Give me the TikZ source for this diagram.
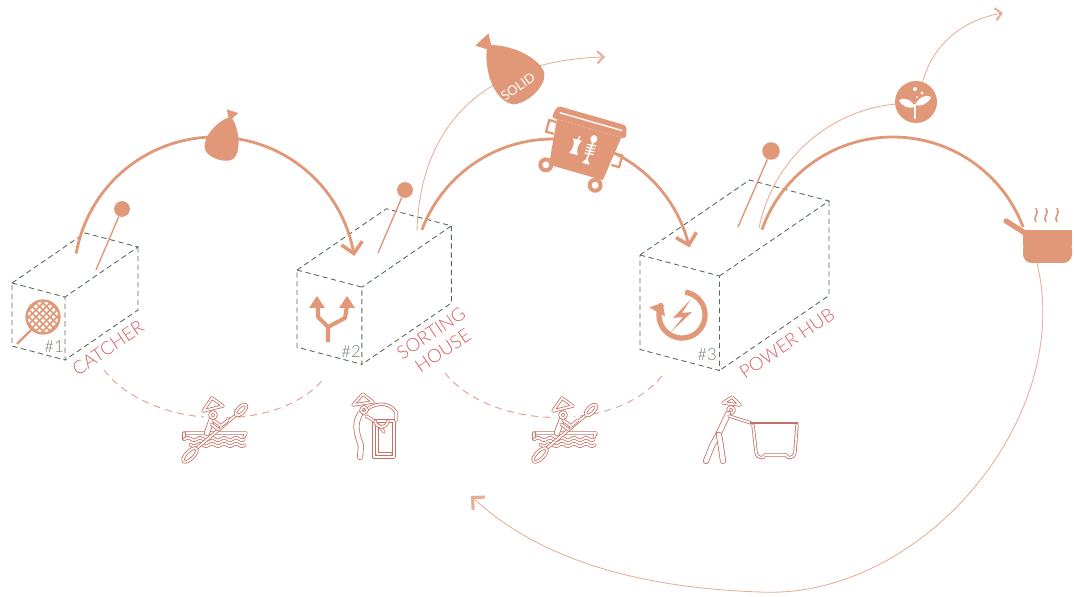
\documentclass[tikz,border=0pt]{standalone}
\usepackage{fontspec}
\setmainfont{Lato}
\newfontfamily\lightfont{Lato Light}
\usepackage{tikz}
\usetikzlibrary{arrows.meta}

\definecolor{salmon}{RGB}{225,152,120}
\definecolor{paleflow}{RGB}{230,175,152}
\definecolor{labelred}{RGB}{214,94,100}
\definecolor{boxgreen}{RGB}{84,108,88}
\definecolor{numgray}{RGB}{110,132,112}
\definecolor{figline}{RGB}{196,112,100}
\definecolor{walkpink}{RGB}{226,168,158}

\tikzset{
  boxline/.style={boxgreen, line width=0.5pt, dash pattern=on 3pt off 2pt},
  flow/.style={salmon, line width=1.6pt},
  thinflow/.style={paleflow, line width=0.5pt},
  walkline/.style={walkpink, line width=0.6pt, dash pattern=on 4pt off 3pt},
  figstroke/.style={figline, line width=0.45pt, double=white, double distance=1pt, line cap=round, line join=round},
  figbody/.style={figstroke, double distance=2.6pt},
  bigbarb/.style={-{Straight Barb[length=6pt, width=12pt, line width=2pt]}},
  smallbarb/.style={-{Straight Barb[length=3.5pt, width=7pt, line width=1.2pt]}},
  cornerbarb/.style={-{Straight Barb[length=5pt, width=10pt, line width=1.8pt]}},
  pinhead/.style={circle, fill=salmon, inner sep=0pt, minimum size=9pt},
  tag/.style={labelred, font=\lightfont\fontsize{10.5}{12}\selectfont, rotate=34, align=center, inner sep=0pt},
  numtag/.style={numgray, font=\lightfont\fontsize{9.5}{10}\selectfont, inner sep=0pt},
}

% dashed station box, #1 = front top-left corner, #2 = scale
\newcommand{\crate}[2]{%
  \begin{scope}[shift={#1}, scale=#2]
    \draw[boxline] (0,0) -- (53,14) -- (53,77) -- (0,63) -- cycle;
    \draw[boxline] (0,0) -- (73,-50) -- (126,-36) -- (53,14);
    \draw[boxline] (126,-36) -- (126,27) -- (53,77);
  \end{scope}}

% tied bag, knot at the origin
\newcommand{\sack}{%
  \fill[salmon] (-6,-5) -- (6,-5) -- (2,2) -- (-2,2) -- cycle;
  \fill[salmon] (-2,2) .. controls (-14,12) and (-22,32) .. (-14,41)
    .. controls (-7,47) and (10,47) .. (15,40)
    .. controls (20,32) and (13,12) .. (2,2) -- cycle;}

% paddler in a canoe, origin at the seat
\newcommand{\kayaker}{%
  \fill[white] (-11,-14) rectangle (9,2);
  \draw[figstroke] (-31,3) -- (31,3) -- (29,7);
  \draw[figstroke] (-31,3) -- (-31,9);
  \draw[figstroke] plot[domain=-31:29, samples=40, variable=\u] (\u, {9+1.2*sin(30*\u)});
  \draw[figstroke] plot[domain=-25:30, samples=40, variable=\u] (\u, {15+1.2*sin(30*\u)});
  \draw[figstroke] (21,-15) -- (-18,18);
  \draw[figstroke, rotate around={45:(26,-20)}] (26,-20) ellipse (7 and 3.2);
  \draw[figstroke, rotate around={45:(-25,25)}] (-25,25) ellipse (9 and 3.8);
  \draw[figbody] (-3,-11) .. controls (-5,-5) and (-7,-1) .. (-8,3);
  \draw[figstroke] (-2,-10) -- (6,-4) -- (13,-10);
  \draw[figstroke] (-4,-6) -- (4,0);
  \draw[figstroke] (-12,-19) -- (-3,-32) -- (8,-24) -- cycle;
  \draw[figstroke] (-2,-15) circle (3);}

\begin{document}
\begin{tikzpicture}[x=0.02cm, y=-0.02cm]
\useasboundingbox (0,0) rectangle (1074,597);

% walking paths between the stations
\draw[walkline] (104,370) .. controls (150,430) and (280,435) .. (325,377);
\draw[walkline] (445,373) .. controls (490,430) and (620,435) .. (665,372);

% thin side streams
\draw[thinflow, smallbarb] (417,231) .. controls (420,120) and (490,60) .. (605,57);
\draw[thinflow] (759,228) .. controls (775,150) and (840,108) .. (897,104);
\draw[thinflow, smallbarb] (922,84) .. controls (932,45) and (962,20) .. (1003,13);
\draw[thinflow, cornerbarb] (1037,263) .. controls (1075,420) and (920,600) .. (760,592)
  .. controls (640,588) and (540,560) .. (471,496);

% stations
\crate{(12,283)}{1}
\crate{(297,270)}{1.225}
\crate{(640,255)}{1.5}

% pins
\node[pinhead] (pin1) at (122,209) {};
\node[pinhead] (pin2) at (405,190) {};
\node[pinhead, minimum size=10pt] (pin3) at (771,151) {};
\draw[salmon, line width=0.8pt] (pin1) -- (96,270);
\draw[salmon, line width=0.8pt] (pin2) -- (378,253);
\draw[salmon, line width=0.8pt] (pin3) -- (738,227);

% main stream
\draw[flow, bigbarb] plot[domain=170:9, samples=60, variable=\t] ({215+141*cos(\t)}, {278-141*sin(\t)});
\draw[flow, bigbarb] plot[domain=159.5:13, samples=60, variable=\t] ({553+140*cos(\t)}, {279-140*sin(\t)});
\draw[flow] plot[domain=160.6:20.6, samples=60, variable=\t] ({893+139*cos(\t)}, {276-139*sin(\t)});

% bags
\begin{scope}[shift={(231,116)}, rotate=-17]
  \sack
\end{scope}
\begin{scope}[shift={(487,45)}, rotate=43, scale=1.5]
  \sack
\end{scope}
\node[white, rotate=35, font=\fontsize{7.5}{8}\selectfont, inner sep=0pt] (solid) at (518,87) {SOLID};

% wheelie bin
\begin{scope}[shift={(585,148)}, rotate=-16]
  \fill[salmon, rounded corners=2pt] (-38,-33) -- (34,-33) -- (37,-20) -- (-41,-20) -- cycle;
  \draw[white, line width=0.8pt] (-34,-27) -- (31,-27);
  \fill[salmon] (-35,-20) -- (32,-20) -- (26,26) -- (-30,26) -- cycle;
  \draw[salmon, line width=1.3pt] (-35,-17) -- (-42,-17) -- (-42,-5) -- (-34,-5);
  \draw[salmon, line width=1.3pt] (31,-3) -- (38,-3) -- (38,9) -- (30,9);
  \fill[salmon] (-33,27) circle (7.5);
  \fill[white] (-33,27) circle (3.5);
  \fill[salmon] (20,33) circle (7.5);
  \fill[white] (20,33) circle (3.5);
  % apple core
  \fill[white] (-14,-6) -- (-5,-6) .. controls (-8,-1) and (-8,4) .. (-5,9)
    -- (-14,9) .. controls (-11,4) and (-11,-1) .. cycle;
  \draw[white, line width=0.8pt] (-9,-6) -- (-8,-10);
  % fish bones
  \fill[white] (6,-11) ellipse (3.5 and 4);
  \draw[white, line width=0.9pt] (6,-7) -- (5,10);
  \foreach \r in {-4,-1,2,5}
    \draw[white, line width=0.7pt] (1,\r) -- (10,\r-1);
  \fill[white] (5,9) -- (1,15) -- (9,15) -- cycle;
\end{scope}

% plant
\fill[salmon] (916,102) circle (21);
\draw[white, line width=1.2pt] (915,119) -- (915,104);
\fill[white] (915,107) .. controls (911,99) and (904,97) .. (899,100) .. controls (902,107) and (909,109) .. cycle;
\fill[white] (915,105) .. controls (919,97) and (926,94) .. (931,97) .. controls (928,104) and (921,107) .. cycle;
\fill[white] (915,89) circle (2);
\fill[white] (922,93) circle (1.6);
\fill[white] (917,97) circle (1.2);

% cooking pot
\draw[salmon, line width=3pt, line cap=round] (1006,221) -- (1025,233);
\fill[salmon, rounded corners=5pt] (1023,240) rectangle (1072,263);
\fill[salmon] (1023,230) rectangle (1072,246);
\foreach \sx in {1036,1046,1057}
  \draw[salmon, line width=0.9pt] (\sx,222) .. controls (\sx-4,218) and (\sx+4,213) .. (\sx,208);

% station symbols
\begin{scope}
  \clip (43,317) circle (16);
  \foreach \k in {-35,-28,...,35} {
    \draw[salmon, line width=1pt] (43+\k-20,297) -- (43+\k+20,337);
    \draw[salmon, line width=1pt] (43+\k-20,337) -- (43+\k+20,297);
  }
\end{scope}
\draw[salmon, line width=1.3pt] (43,317) circle (16.5);
\draw[salmon, line width=1.3pt] (31,330) -- (17,344);

\draw[salmon, line width=2.3pt, line join=round] (328,342) -- (328,327) -- (318,317) -- (318,306);
\draw[salmon, line width=2.3pt, line join=round] (328,327) -- (345,318) -- (347,306);
\fill[salmon] (317,296) -- (309,308) -- (325,308) -- cycle;
\fill[salmon] (347,296) -- (339,308) -- (355,308) -- cycle;

\draw[salmon, line width=3pt, -{Triangle[length=6pt, width=10pt]}]
  plot[domain=82:-212, samples=80, variable=\t] ({682+23*cos(\t)}, {315-23*sin(\t)});
\fill[salmon] (691,299) -- (673,318) -- (683,317) -- (671,332) -- (692,312) -- (682,313) -- cycle;

% labels
\node[tag] (catcher) at (108,348) {CATCHER};
\node[tag] (sorting) at (437,342) {SORTING\\HOUSE};
\node[tag] (powerhub) at (787,343) {POWER HUB};
\node[numtag] (n1) at (54,347) {\#1};
\node[numtag] (n2) at (351,352) {\#2};
\node[numtag] (n3) at (707,355) {\#3};

% workers
\begin{scope}[shift={(215,430)}]
  \kayaker
\end{scope}
\begin{scope}[shift={(565,430)}]
  \kayaker
\end{scope}

% carrier with a sack
\draw[figstroke] (374,421) rectangle (394,457);
\draw[figstroke] (377,424) -- (377,454) -- (391,454);
\draw[figstroke] (363,413) .. controls (372,403) and (388,400) .. (396,412) -- (396,421);
\draw[figstroke] (366,416) .. controls (374,420) and (380,426) .. (384,432);
\draw[figstroke] (375,421) .. controls (376,428) and (386,430) .. (388,421);
\draw[figbody] (360,414) .. controls (353,426) and (358,436) .. (361,446) -- (360,457);
\draw[figstroke] (353,405) -- (363,394) -- (373,402) -- cycle;
\draw[figstroke] (364,410) circle (3);

% worker pushing a cart
\draw[figstroke] (723,403) -- (732,397) -- (740,405) -- cycle;
\draw[figstroke] (731,410) circle (3);
\draw[figbody] (728,414) -- (718,435);
\draw[figstroke] (729,416) -- (751,423);
\draw[figbody] (718,435) -- (712,446) -- (706,461);
\draw[figbody] (719,435) -- (721,447) -- (723,461);
\draw[figline, line width=1.2pt] (750,423) -- (798,423);
\draw[figstroke] (753,425) -- (756,452) .. controls (757,459) and (764,459) .. (765,455)
  -- (786,455) .. controls (787,459) and (794,459) .. (795,452) -- (797,425);
\end{tikzpicture}
\end{document}
